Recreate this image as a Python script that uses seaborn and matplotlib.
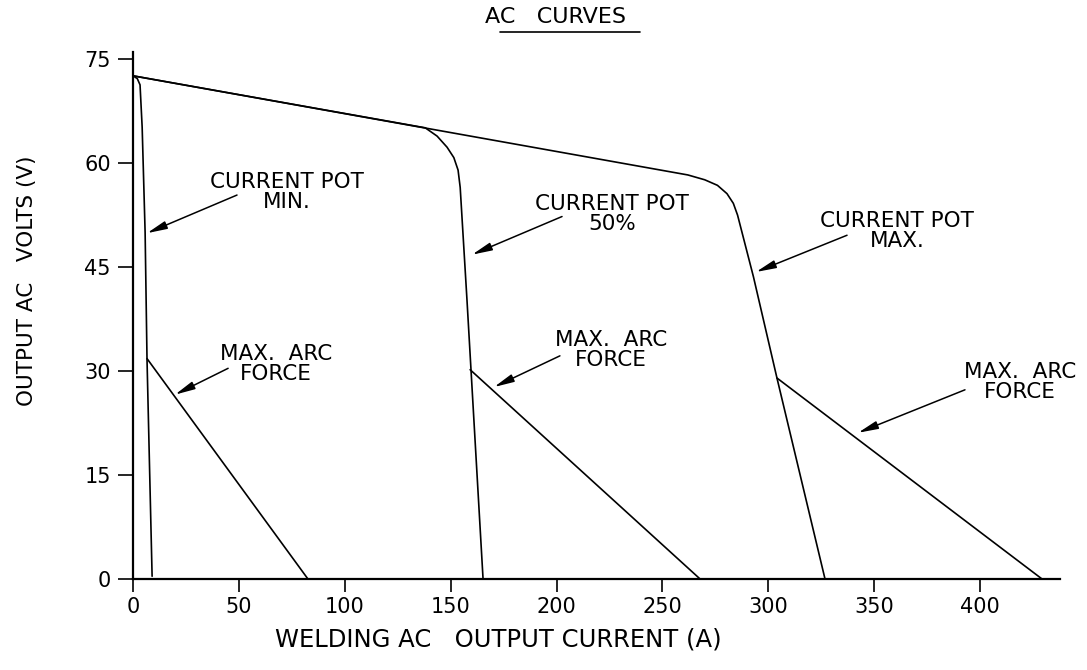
import matplotlib
matplotlib.use("Agg")
import matplotlib.pyplot as plt
import seaborn as sns
import pandas as pd
from matplotlib.lines import Line2D

# welding curve data (amps, volts)
min_amps = [0.0, 2.0, 3.3, 4.3, 5.7, 6.6, 9.0]
min_volts = [72.6, 72.2, 71.3, 65.2, 50.0, 31.6, 0.4]

half_amps = [0.0, 138.0, 143.6, 148.3, 151.5, 153.5, 154.5, 157.7, 165.3]
half_volts = [72.6, 65.1, 63.9, 62.3, 60.8, 59.0, 56.5, 40.3, 0.0]

max_amps = [0.0, 262.0, 270.0, 276.0, 280.5, 283.5, 285.5, 293.0, 304.1, 326.8]
max_volts = [72.6, 58.3, 57.6, 56.8, 55.6, 54.2, 52.5, 43.6, 29.0, 0.0]

min_arc_amps = [6.6, 82.6]
min_arc_volts = [31.8, 0.0]
half_arc_amps = [159.2, 267.8]
half_arc_volts = [30.2, 0.0]
max_arc_amps = [304.1, 429.3]
max_arc_volts = [29.0, 0.0]

x_ticks = [0, 50, 100, 150, 200, 250, 300, 350, 400]
y_ticks = [0, 15, 30, 45, 60, 75]

# labels: text, text position, arrow tail, arrow tip
notes = [
    ("CURRENT POT\nMIN.", (72.7, 55.8), (49.1, 55.4), (6.6, 49.9)),
    ("MAX.  ARC\nFORCE", (67.5, 31.0), (44.9, 30.4), (19.8, 26.6)),
    ("CURRENT POT\n50%", (226.2, 52.7), (202.6, 52.3), (160.1, 46.8)),
    ("MAX.  ARC\nFORCE", (225.7, 33.0), (201.6, 32.2), (170.5, 27.7)),
    ("CURRENT POT\nMAX.", (360.8, 50.2), (337.2, 49.6), (294.2, 44.3)),
    ("MAX.  ARC\nFORCE", (418.9, 28.4), (392.9, 27.3), (342.4, 21.1)),
]

sns.set_style("ticks")
plt.rcParams['font.family'] = ['DejaVu Sans']
plt.rcParams['text.color'] = 'black'
plt.rcParams['xtick.color'] = 'black'
plt.rcParams['ytick.color'] = 'black'

fig = plt.figure(figsize=(10.87, 6.70), dpi=100)
ax = fig.add_axes([0.1224, 0.1358, 0.9756 - 0.1224, 0.922 - 0.1358])

curves = [
    (min_amps, min_volts), (half_amps, half_volts), (max_amps, max_volts),
    (min_arc_amps, min_arc_volts), (half_arc_amps, half_arc_volts),
    (max_arc_amps, max_arc_volts),
]
for a, v in curves:
    d = pd.DataFrame({"amps": a, "volts": v})
    sns.lineplot(data=d, x="amps", y="volts", sort=False, estimator=None,
                 color="black", linewidth=1.2, ax=ax)

for text, pos, tail, tip in notes:
    ax.text(pos[0], pos[1], text, ha="center", va="center", fontsize=15.5,
            linespacing=1.0, color="black")
    ax.annotate("", xy=tip, xytext=tail,
                arrowprops=dict(arrowstyle="-|>,head_length=0.8,head_width=0.16",
                                color="black", lw=1.1, mutation_scale=15,
                                shrinkA=0, shrinkB=0))

ax.set_xlim(0, 438)
ax.set_ylim(0, 76)
ax.set_xticks(x_ticks)
ax.set_yticks(y_ticks)
ax.set_xlabel("")
ax.set_ylabel("")
sns.despine(ax=ax)
for s in ["left", "bottom"]:
    ax.spines[s].set_linewidth(1.6)
    ax.spines[s].set_color("black")
ax.tick_params(axis="both", direction="out", width=1.2,
               color="black", labelcolor="black", labelsize=15)
ax.tick_params(axis="x", length=9, pad=4)
ax.tick_params(axis="y", length=11, pad=5)

fig.text(0.458, 0.045, "WELDING AC   OUTPUT CURRENT (A)", ha="center",
         va="center", fontsize=17.5, color="black")
fig.text(0.0248, 0.581, "OUTPUT AC   VOLTS (V)", ha="center", va="center",
         rotation=90, fontsize=15.5, color="black")
fig.text(0.5106, 0.9746, "AC   CURVES", ha="center", va="center", fontsize=16,
         color="black")
fig.add_artist(Line2D([500 / 1087, 640 / 1087], [1 - 32 / 670, 1 - 32 / 670],
                      color="black", lw=1.2))

fig.savefig("out.png", dpi=100)
